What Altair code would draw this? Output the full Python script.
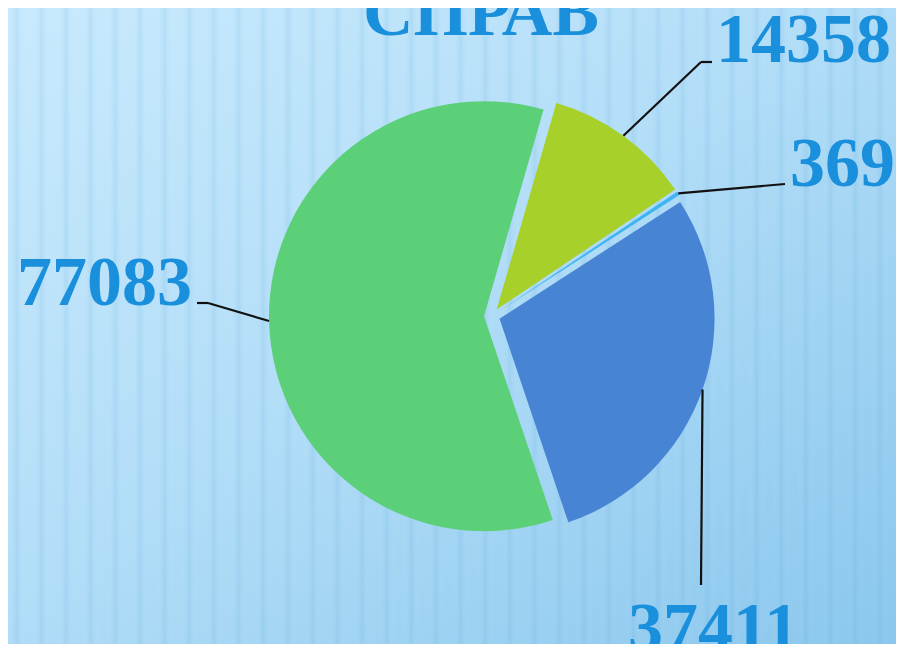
import altair as alt
import pandas as pd

# ---- data ----
values = [14358, 369, 37411, 77083]
labels = ["14358", "369", "37411", "77083"]
title_text = "СПРАВ"

# ---- styles / layout ----
slice_colors = ["#a8d02a", "#3fb4f3", "#4785d4", "#5ccf79"]
text_color = "#1a90dc"
W, H = 888, 636
CX, CY = 484, 308          # pie centre (chart px)
R = 215                     # pie radius
EXPLODE = 8                 # explosion distance
START = 0.281               # start angle (rad)
FONT = "Liberation Serif"

# label anchors (left, baseline), leader elbow and tail end (chart px)
layout = {
    "14358": dict(tx=708, ty=54, ex=693, ey=54, ox=704, oy=54),
    "369":   dict(tx=782, ty=178, ex=777, ey=176, ox=777, oy=176),
    "37411": dict(tx=620, ty=643, ex=693, ey=577, ox=693, oy=577),
    "77083": dict(tx=9,   ty=297, ex=200, ey=295, ox=189, oy=295),
}

df = pd.DataFrame({"label": labels, "value": values, "order": list(range(len(values)))})
for k in ["tx", "ty", "ex", "ey", "ox", "oy"]:
    df[k] = [layout[l][k] for l in labels]

color_scale = alt.Scale(domain=labels, range=slice_colors)

base = (
    alt.Chart(df)
    .transform_joinaggregate(total="sum(value)")
    .transform_window(cum="sum(value)", sort=[alt.SortField("order")], frame=[None, 0])
    .transform_calculate(
        t0=f"{START} + 2*PI*(datum.cum - datum.value)/datum.total",
        t1=f"{START} + 2*PI*datum.cum/datum.total",
    )
    .transform_calculate(mid="(datum.t0 + datum.t1)/2")
    .transform_calculate(
        cx=f"{CX} + {EXPLODE}*sin(datum.mid)",
        cy=f"{CY} - {EXPLODE}*cos(datum.mid)",
    )
    .transform_calculate(
        sx=f"datum.cx + {R}*sin(datum.mid)",
        sy=f"datum.cy - {R}*cos(datum.mid)",
    )
)

# background
bg_df = pd.DataFrame({"k": [0]})
bg = alt.Chart(bg_df).mark_rect(
    fill=alt.LinearGradient(
        gradient="linear", x1=0, y1=0, x2=1, y2=1,
        stops=[
            alt.GradientStop(color="#c9eafd", offset=0),
            alt.GradientStop(color="#b3def8", offset=0.45),
            alt.GradientStop(color="#8ac7ed", offset=1),
        ],
    )
).encode(x=alt.value(0), x2=alt.value(W), y=alt.value(0), y2=alt.value(H))

stripe_stops = []
n = 36
for i in range(n):
    a = i / n
    stripe_stops.append(alt.GradientStop(color="rgba(255,255,255,0)", offset=a))
    stripe_stops.append(alt.GradientStop(color="rgba(80,160,215,0.14)", offset=a + 0.35 / n))
    stripe_stops.append(alt.GradientStop(color="rgba(255,255,255,0)", offset=a + 0.7 / n))
stripe_stops.append(alt.GradientStop(color="rgba(255,255,255,0)", offset=1))
stripes = alt.Chart(bg_df).mark_rect(
    fill=alt.LinearGradient(gradient="linear", x1=0, y1=0, x2=1, y2=0, stops=stripe_stops)
).encode(x=alt.value(0), x2=alt.value(W), y=alt.value(0), y2=alt.value(H))

pie = base.mark_arc(radius=R).encode(
    theta=alt.Theta("t0:Q", scale=None),
    theta2="t1:Q",
    x=alt.X("cx:Q", scale=None, axis=None),
    y=alt.Y("cy:Q", scale=None, axis=None),
    color=alt.Color("label:N", scale=color_scale, legend=None),
)

leader = base.mark_rule(color="#111111", strokeWidth=2.2).encode(
    x=alt.X("sx:Q", scale=None, axis=None),
    y=alt.Y("sy:Q", scale=None, axis=None),
    x2="ex:Q",
    y2="ey:Q",
)
tail = base.mark_rule(color="#111111", strokeWidth=2.2).encode(
    x=alt.X("ex:Q", scale=None, axis=None),
    y=alt.Y("ey:Q", scale=None, axis=None),
    x2="ox:Q",
    y2="oy:Q",
)

text = base.mark_text(
    font=FONT, fontSize=70, fontWeight="bold", color=text_color,
    align="left", baseline="alphabetic",
).encode(
    x=alt.X("tx:Q", scale=None, axis=None),
    y=alt.Y("ty:Q", scale=None, axis=None),
    text="label:N",
)

title = alt.Chart(pd.DataFrame({"t": [title_text]})).mark_text(
    font=FONT, fontSize=70, fontWeight="bold", color=text_color,
    align="center", baseline="alphabetic",
).encode(x=alt.value(473), y=alt.value(27), text="t:N")

chart = (
    alt.layer(bg, stripes, pie, leader, tail, text, title)
    .properties(width=W, height=H, padding=0, autosize="none")
    .configure_view(stroke=None)
)

chart.save("out.html", embed_options={"renderer": "svg", "actions": False})
